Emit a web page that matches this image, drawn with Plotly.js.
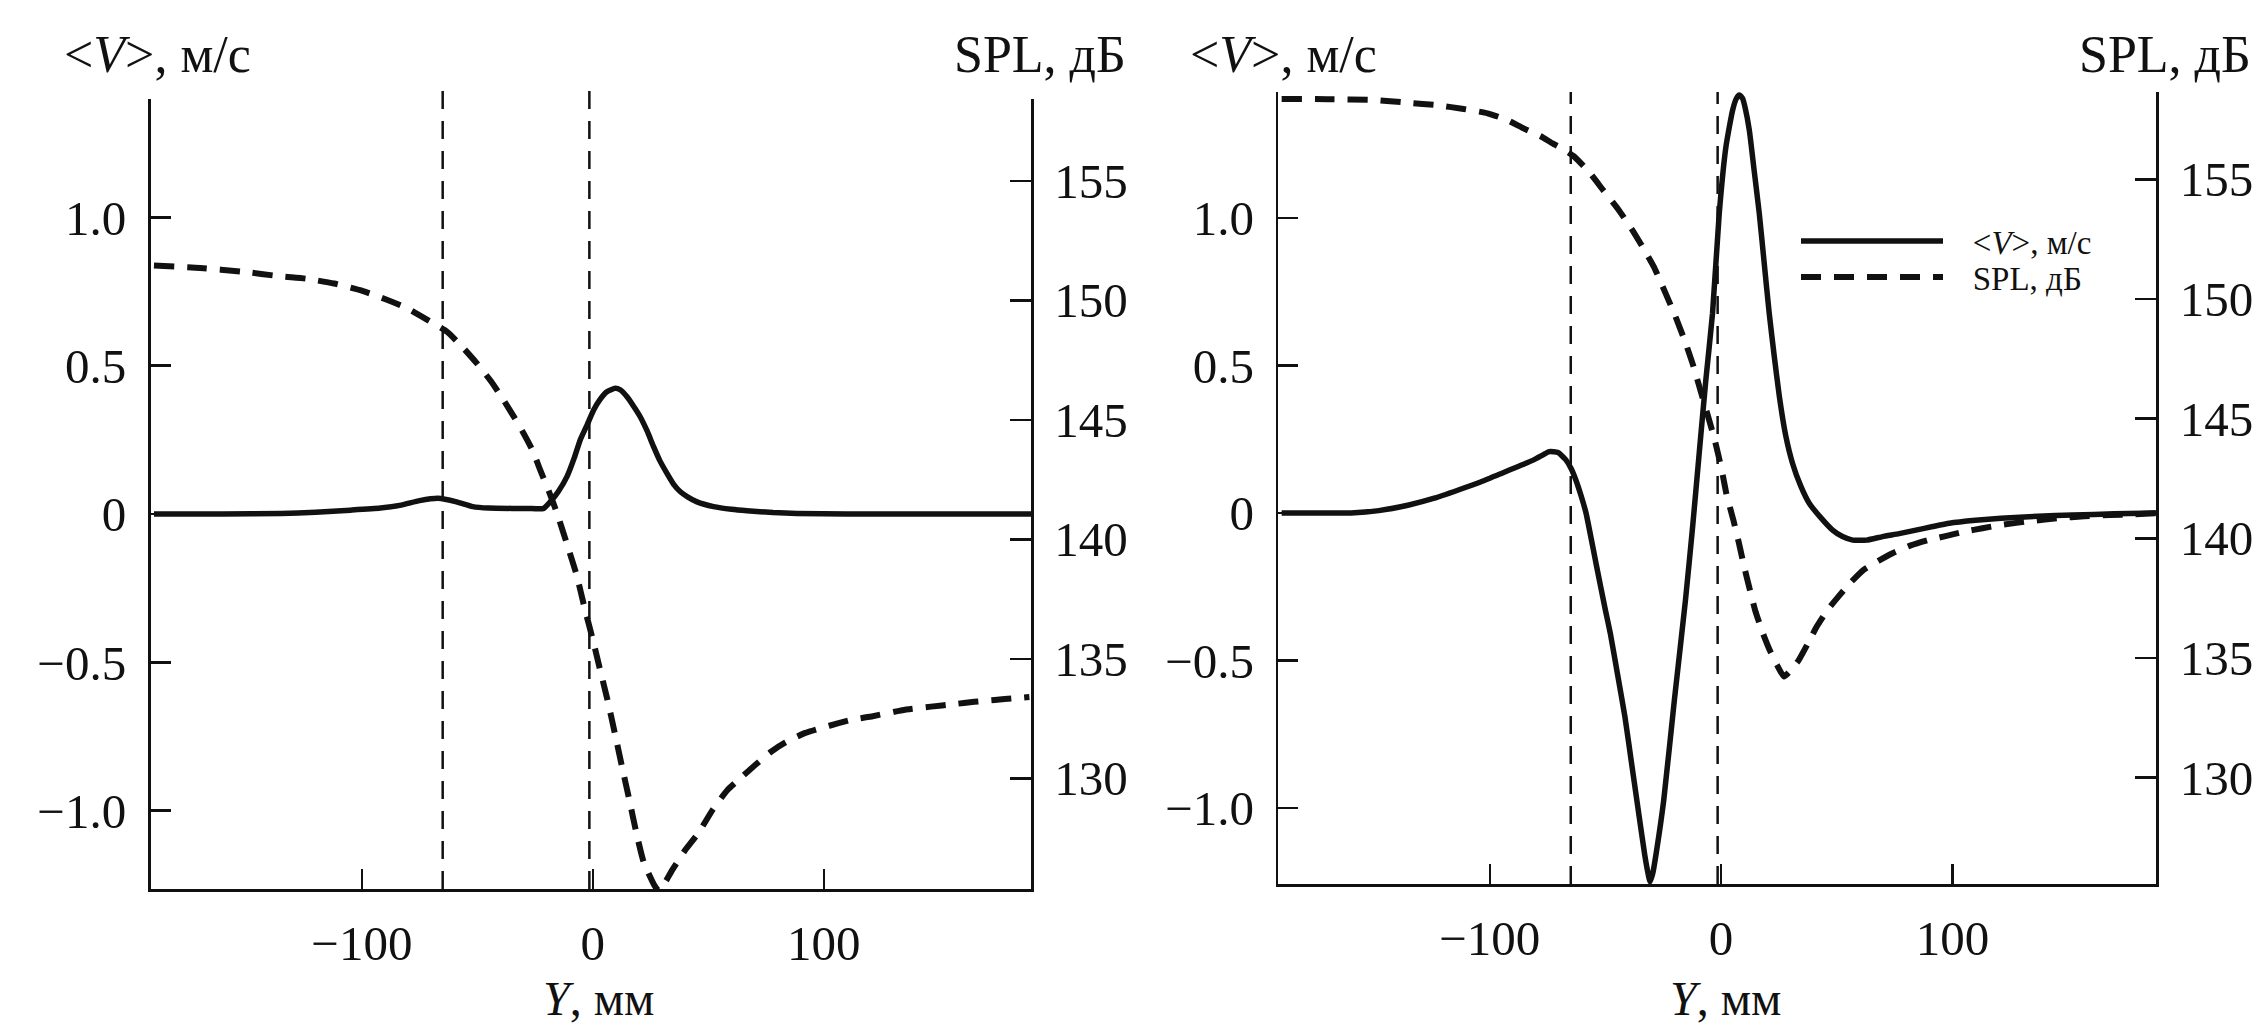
<!DOCTYPE html>
<html><head><meta charset="utf-8">
<script src="https://cdn.plot.ly/plotly-3.0.1.min.js"></script>
<style>html,body{margin:0;padding:0;background:#fff;overflow:hidden}</style>
</head><body><div id="chart" style="width:2265px;height:1027px"></div>
<script>
// ---------- Left panel data ----------
const leftV_Y = [-190,-160,-135,-120,-105,-92,-83,-75,-67,-59,-52,-45,-35,-28,-21.3,-18,-15,-11.2,-8,-5.5,-2.5,0.3,3,6.1,9.7,12,14.8,17.5,20.5,23.5,26.3,29,32.1,35,37.9,41,45.1,52.3,60,66.7,78,88.4,110,140,190];
const leftV = [0,0,0.002,0.006,0.013,0.02,0.03,0.045,0.053,0.041,0.025,0.02,0.019,0.019,0.019,0.045,0.075,0.126,0.19,0.249,0.3,0.35,0.385,0.412,0.424,0.418,0.395,0.365,0.328,0.28,0.227,0.18,0.137,0.1,0.075,0.058,0.041,0.025,0.016,0.011,0.005,0.002,0,0,0];

const leftSPL_Y = [-190,-170,-152,-135,-124,-112,-100,-90,-80.5,-72,-63.2,-57,-50.2,-44,-38.7,-34,-30,-26,-22.8,-19,-15.5,-11.2,-7,-3.5,0,3,6.3,9.5,12.6,15.8,18.9,22,26.8,28.5,31,34.6,40,45.6,52,58.2,65,70.8,77,83.4,92,102.4,112,121.2,134,146.4,156,165.2,174,182.6,189];
const leftSPL = [151.45,151.35,151.2,151.0,150.9,150.7,150.4,150.05,149.67,149.2,148.69,148.1,147.36,146.6,145.83,145.1,144.44,143.7,142.9,142.0,141.09,139.8,138.5,137.1,135.8,134.6,133.3,131.9,130.5,129.1,127.7,126.5,125.5,125.3,125.6,126.2,127.0,127.7,128.7,129.5,130.1,130.6,131.1,131.5,131.9,132.2,132.45,132.6,132.85,133.0,133.1,133.2,133.28,133.35,133.4];

// ---------- Right panel data ----------
const rightV_Y = [-190,-175,-160,-148,-135,-124,-113.6,-104,-95,-88,-81,-77,-74.3,-70.5,-67.1,-64.8,-62.8,-60.6,-58.4,-54.1,-50,-47.9,-44.7,-41.6,-38.5,-35.4,-33,-31.5,-30.7,-29.5,-28,-24.8,-20.2,-15.4,-12.3,-9.5,-6.6,-3.7,-0.8,2.1,5,6.6,7.9,9.3,10.5,12.2,14.3,16.5,18.6,20.8,23,25.2,28,30.9,34.5,38.1,43,48.2,52.5,56.9,63,69.8,77,84.2,91.5,98.7,110,121,137,152,170,189];
const rightV = [0,0,0,0.008,0.027,0.05,0.078,0.105,0.134,0.157,0.18,0.197,0.208,0.205,0.18,0.15,0.112,0.06,0,-0.17,-0.33,-0.408,-0.55,-0.69,-0.86,-1.03,-1.16,-1.225,-1.25,-1.22,-1.15,-0.973,-0.634,-0.295,-0.046,0.2,0.451,0.677,1.016,1.242,1.366,1.405,1.417,1.405,1.37,1.298,1.16,1.016,0.85,0.677,0.53,0.394,0.26,0.168,0.09,0.033,-0.015,-0.058,-0.08,-0.092,-0.092,-0.08,-0.07,-0.058,-0.046,-0.035,-0.025,-0.018,-0.011,-0.007,-0.003,0];

const rightSPL_Y = [-190,-170,-151,-135,-123,-112,-101,-93,-85.4,-78,-72.9,-68,-63.5,-57,-51,-44.5,-38.5,-33.5,-29.1,-24.5,-19.7,-15.5,-11.9,-8.7,-5.6,-3,-1,0.8,2.2,3.8,5.3,7.7,10,12.3,14.7,17.8,21,24.2,27.2,30.3,33.5,37.5,41.3,46,50.7,56,61.6,68,74.1,82,89.8,97.5,105.4,113,121.1,134,146.1,157,168,178,189];
const rightSPL = [158.36,158.35,158.32,158.2,158.1,157.95,157.76,157.5,157.13,156.8,156.5,156.25,155.95,155.3,154.55,153.75,152.9,152.1,151.35,150.35,149.26,148.2,147.17,146.1,145.08,144.2,143.4,142.6,141.9,141.3,140.76,139.8,138.8,137.9,137.0,136.1,135.33,134.7,134.22,134.5,134.9,135.6,136.3,137.0,137.56,138.15,138.68,139.05,139.37,139.7,139.93,140.1,140.28,140.42,140.56,140.72,140.84,140.92,140.97,141.0,141.05];

// ---------- Reference lines & ticks ----------
const markerLines = [-65, -1.5];
const vTickVals = [-1.0, -0.5, 0, 0.5, 1.0];
const vTickText = ['−1.0', '−0.5', '0', '0.5', '1.0'];
const splTickVals = [130, 135, 140, 145, 150, 155];
const splTickText = ['130', '135', '140', '145', '150', '155'];
const yTickVals = [-100, 0, 100];
const yTickText = ['−100', '0', '100'];

const seriesNames = ['&lt;<i>V</i>&gt;, м/с', 'SPL, дБ'];
const vTitle = '&lt;<i>V</i>&gt;, м/с';
const splTitle = 'SPL, дБ';
const xTitle = '<i>Y</i>, мм';

const INK = '#111';
const FONT = 'Liberation Serif, Times New Roman, serif';
const W = 2265, H = 1027;
const NB = '\u00a0\u00a0\u00a0';

const solid = {color: INK, width: 5.5, shape: 'spline', smoothing: 0.5};
const dashed = {color: INK, width: 6, dash: '20px,13px', shape: 'spline', smoothing: 0.5};

const traces = [
  {x: leftV_Y, y: leftV, xaxis: 'x', yaxis: 'y', mode: 'lines', line: solid, name: seriesNames[0], showlegend: false},
  {x: leftSPL_Y, y: leftSPL, xaxis: 'x', yaxis: 'y2', mode: 'lines', line: dashed, name: seriesNames[1], showlegend: false},
  {x: rightV_Y, y: rightV, xaxis: 'x2', yaxis: 'y3', mode: 'lines', line: solid, name: NB + seriesNames[0], showlegend: true, legend: 'legend'},
  {x: rightSPL_Y, y: rightSPL, xaxis: 'x2', yaxis: 'y4', mode: 'lines', line: dashed, name: NB + seriesNames[1], showlegend: true, legend: 'legend2'}
];

function px(x) { return x / W; }
function py(y) { return 1 - y / H; }

const tickFont = {family: FONT, size: 49, color: INK};

function xAxis(domain, anchor, range) {
  return {domain, anchor, range, showline: true, linewidth: 2.5, linecolor: INK, mirror: false,
    ticks: 'inside', ticklen: 20, tickwidth: 2.5, tickcolor: INK,
    tickmode: 'array', tickvals: yTickVals, ticktext: yTickText, tickfont: tickFont,
    ticklabelstandoff: 10, showgrid: false, zeroline: false, fixedrange: true};
}
function vAxis(domain, anchor, range) {
  return {domain, anchor, range, side: 'left', showline: true, linewidth: 2.5, linecolor: INK,
    ticks: 'inside', ticklen: 20, tickwidth: 2.5, tickcolor: INK,
    tickmode: 'array', tickvals: vTickVals, ticktext: vTickText, tickfont: tickFont,
    ticklabelstandoff: 12, showgrid: false, zeroline: false, fixedrange: true};
}
function splAxis(overlay, anchor, range) {
  return {overlaying: overlay, anchor, range, side: 'right', showline: true, linewidth: 2.5, linecolor: INK,
    ticks: 'inside', ticklen: 21, tickwidth: 2.5, tickcolor: INK,
    tickmode: 'array', tickvals: splTickVals, ticktext: splTickText, tickfont: tickFont,
    ticklabelstandoff: 11, showgrid: false, zeroline: false, fixedrange: true};
}

const shapes = [];
markerLines.forEach(v => {
  shapes.push({type: 'line', xref: 'x', yref: 'y domain', x0: v, x1: v, y0: 0, y1: 1.01,
    line: {color: INK, width: 2.5, dash: '18px,12px'}});
  shapes.push({type: 'line', xref: 'x2', yref: 'y3 domain', x0: v, x1: v, y0: 0, y1: 1.0,
    line: {color: INK, width: 2.5, dash: '18px,12px'}});
});

const titleFont = {family: FONT, size: 52, color: INK};
const axTitleFont = {family: FONT, size: 48, color: INK};
const annotations = [
  {text: vTitle, xref: 'paper', yref: 'paper', x: px(62), y: py(54), xanchor: 'left', yanchor: 'middle', showarrow: false, font: titleFont},
  {text: splTitle, xref: 'paper', yref: 'paper', x: px(1128), y: py(54), xanchor: 'right', yanchor: 'middle', showarrow: false, font: titleFont},
  {text: vTitle, xref: 'paper', yref: 'paper', x: px(1188), y: py(54), xanchor: 'left', yanchor: 'middle', showarrow: false, font: titleFont},
  {text: splTitle, xref: 'paper', yref: 'paper', x: px(2253), y: py(54), xanchor: 'right', yanchor: 'middle', showarrow: false, font: titleFont},
  {text: xTitle, xref: 'paper', yref: 'paper', x: px(598), y: py(998), xanchor: 'center', yanchor: 'middle', showarrow: false, font: axTitleFont},
  {text: xTitle, xref: 'paper', yref: 'paper', x: px(1725), y: py(998), xanchor: 'center', yanchor: 'middle', showarrow: false, font: axTitleFont}
];

const legendBase = {xanchor: 'left', yanchor: 'middle', bgcolor: 'rgba(0,0,0,0)',
  borderwidth: 0, itemwidth: 142, font: {family: FONT, size: 33, color: INK}};

const layout = {
  width: W, height: H,
  margin: {l: 0, r: 0, t: 0, b: 0, pad: 0},
  paper_bgcolor: '#fff', plot_bgcolor: 'rgba(0,0,0,0)',
  font: {family: FONT, size: 49, color: INK},
  showlegend: true,
  legend: Object.assign({}, legendBase, {x: px(1796), y: py(241)}),
  legend2: Object.assign({}, legendBase, {x: px(1796), y: py(277)}),
  xaxis: xAxis([px(150.5), px(1031)], 'y', [-191.5, 189.7]),
  yaxis: vAxis([py(889), py(99)], 'x', [-1.264, 1.399]),
  yaxis2: splAxis('y', 'x', [125.37, 158.42]),
  xaxis2: xAxis([px(1278.4), px(2156.4)], 'y3', [-191.4, 188.2]),
  yaxis3: vAxis([py(884), py(92)], 'x2', [-1.2576, 1.427]),
  yaxis4: splAxis('y3', 'x2', [125.55, 158.65]),
  shapes, annotations
};

Plotly.newPlot('chart', traces, layout, {staticPlot: true, displayModeBar: false});
</script></body></html>
